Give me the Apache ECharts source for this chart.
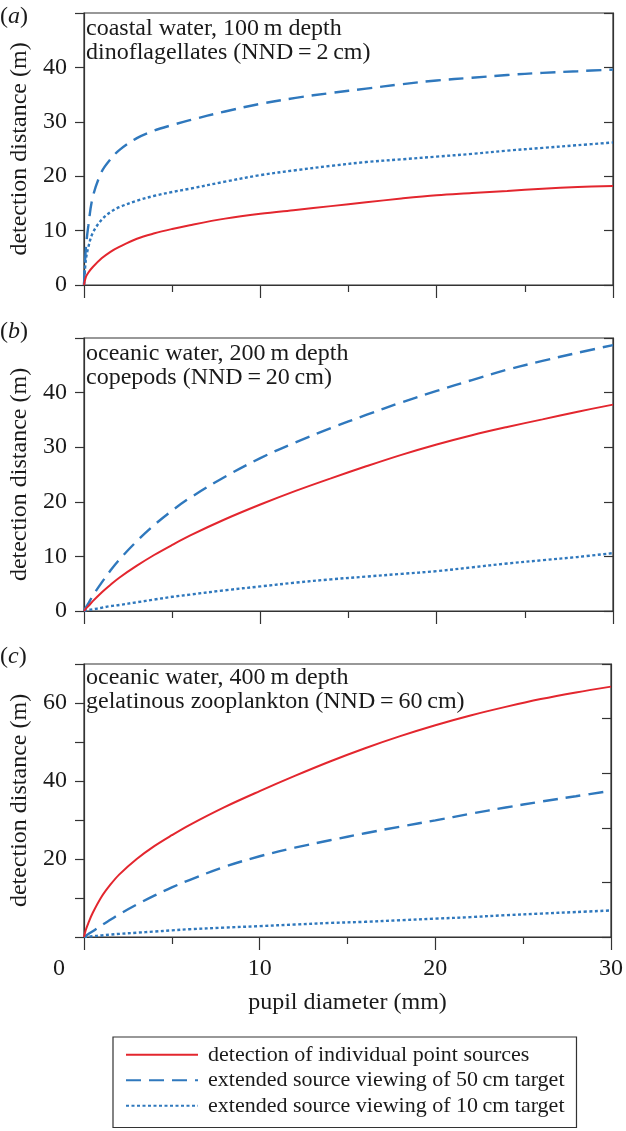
<!DOCTYPE html>
<html>
<head>
<meta charset="utf-8">
<title>detection distance vs pupil diameter</title>
<script src="https://cdn.jsdelivr.net/npm/echarts@6/dist/echarts.min.js"></script>
<style>
  html, body { margin: 0; padding: 0; background: #fff; }
  #chart { width: 626px; height: 1131px; }
</style>
</head>
<body>
<div id="chart"></div>
<script>
// pupil diameter (mm), shared by every curve
const pupil = [0, 0.1, 0.25, 0.5, 1, 1.5, 2, 3, 4, 5, 6, 8, 10, 12, 14, 16, 18, 20, 22, 24, 26, 28, 30];

// (a) coastal water, 100 m depth
const aPoint = [0, 1.4, 2.3, 3.3, 4.9, 6.1, 7.0, 8.5, 9.5, 10.3, 11.0, 12.2, 13.1, 13.8, 14.5, 15.2, 15.9, 16.5, 16.9, 17.3, 17.7, 18.0, 18.2];
const aExt50 = [0, 6.5, 11.0, 16.2, 20.8, 23.1, 24.8, 27.0, 28.4, 29.4, 30.3, 31.9, 33.3, 34.4, 35.3, 36.1, 36.9, 37.6, 38.1, 38.6, 39.0, 39.3, 39.6];
const aExt10 = [0, 4.5, 7.0, 9.6, 12.0, 13.4, 14.3, 15.5, 16.4, 17.1, 17.7, 19.0, 20.2, 21.1, 21.9, 22.6, 23.1, 23.6, 24.1, 24.7, 25.2, 25.7, 26.2];

// (b) oceanic water, 200 m depth
const bPoint = [0, 0.4, 0.9, 1.8, 3.4, 4.8, 6.1, 8.3, 10.3, 12.1, 13.8, 16.8, 19.5, 22.0, 24.3, 26.5, 28.6, 30.5, 32.2, 33.7, 35.1, 36.5, 37.8];
const bExt50 = [0, 0.6, 1.4, 2.8, 5.2, 7.4, 9.4, 12.8, 15.8, 18.4, 20.7, 24.6, 28.0, 30.9, 33.5, 35.9, 38.2, 40.3, 42.3, 44.2, 45.8, 47.3, 48.7];
const bExt10 = [0, 0.1, 0.2, 0.3, 0.6, 0.9, 1.1, 1.6, 2.1, 2.6, 3.0, 3.8, 4.5, 5.2, 5.8, 6.3, 6.8, 7.3, 8.0, 8.7, 9.3, 9.9, 10.6];

// (c) oceanic water, 400 m depth
const cPoint = [0, 1.8, 3.6, 6.2, 10.3, 13.4, 16.0, 20.0, 23.3, 26.1, 28.7, 33.3, 37.4, 41.3, 45.0, 48.4, 51.5, 54.3, 56.8, 59.0, 61.0, 62.7, 64.2];
const cExt50 = [0, 0.3, 0.8, 1.5, 3.0, 4.4, 5.8, 8.3, 10.6, 12.7, 14.6, 18.0, 20.7, 22.9, 24.8, 26.6, 28.3, 29.9, 31.6, 33.2, 34.7, 36.1, 37.5];
const cExt10 = [0, 0.05, 0.1, 0.2, 0.4, 0.6, 0.8, 1.1, 1.4, 1.7, 2.0, 2.4, 2.8, 3.2, 3.6, 3.9, 4.3, 4.7, 5.1, 5.6, 6.0, 6.4, 6.8];

// tick labels
const xTickLabels = [0, 10, 20, 30];
const yTickLabelsAB = [0, 10, 20, 30, 40];
const yTickLabelsC = [20, 40, 60];
const yMax = [50, 50, 70];

const panelTags = ['a', 'b', 'c'];
const panelNotes = [
  'coastal water, 100\u2009m depth\ndinoflagellates (NND\u2009=\u20092\u2009cm)',
  'oceanic water, 200\u2009m depth\ncopepods (NND\u2009=\u200920\u2009cm)',
  'oceanic water, 400\u2009m depth\ngelatinous zooplankton (NND\u2009=\u200960\u2009cm)'
];
const seriesNames = [
  'detection of individual point sources',
  'extended source viewing of 50\u2009cm target',
  'extended source viewing of 10\u2009cm target'
];
const panelData = [
  [aPoint, aExt50, aExt10],
  [bPoint, bExt50, bExt10],
  [cPoint, cExt50, cExt10]
];

const FONT = '"Liberation Serif", "Times New Roman", serif';
const INK = '#1a1a1a';
const AXIS = '#333';
const RED = '#e3262e';
const BLUE = '#2f78bd';

const gridTops = [13, 338, 664];
const gridHeights = [272, 273, 273];

const grid = gridTops.map((t, i) => ({
  left: 81, top: t, width: 532, height: gridHeights[i],
  show: true, borderColor: AXIS, borderWidth: 1.2
}));

const xAxis = grid.map((g, i) => ({
  type: 'value', gridIndex: i, min: 0, max: 30, interval: 10,
  axisLine: { show: true, onZero: false, lineStyle: { color: AXIS, width: 1.2 } },
  axisTick: { show: true, inside: false, length: 13, lineStyle: { color: AXIS, width: 1.2 } },
  minorTick: { show: true, splitNumber: 2, length: 7, lineStyle: { color: AXIS, width: 1.2 } },
  splitLine: { show: false },
  axisLabel: {
    show: i === 2, margin: 20, color: INK, fontFamily: FONT, fontSize: 24,
    formatter: v => v === 0 ? '{z|0}' : (xTickLabels.includes(v) ? String(v) : ''),
    rich: { z: { fontFamily: FONT, fontSize: 24, color: INK, padding: [0, 50, 0, 0] } }
  },
  name: i === 2 ? 'pupil diameter (mm)' : '',
  nameLocation: 'middle', nameGap: 54,
  nameTextStyle: { color: INK, fontFamily: FONT, fontSize: 24 }
}));

const yAxis = [];
grid.forEach((g, i) => {
  const labels = i === 2 ? yTickLabelsC : yTickLabelsAB;
  yAxis.push({
    type: 'value', gridIndex: i, min: 0, max: yMax[i], interval: 10, position: 'left',
    axisLine: { show: true, onZero: false, lineStyle: { color: AXIS, width: 1.2 } },
    axisTick: { show: true, inside: false, length: 9, lineStyle: { color: AXIS, width: 1.2 } },
    splitLine: { show: false },
    axisLabel: {
      margin: 17, color: INK, fontFamily: FONT, fontSize: 24,
      formatter: v => labels.includes(v) ? String(v) : ''
    },
    name: 'detection distance (m)', nameLocation: 'middle', nameGap: 52, nameRotate: 90,
    nameTextStyle: { color: INK, fontFamily: FONT, fontSize: 24 }
  });
  // right frame ticks (same 0-50 spacing in every panel)
  yAxis.push({
    type: 'value', gridIndex: i, min: 0, max: 50, interval: 10, position: 'right',
    axisLine: { show: true, onZero: false, lineStyle: { color: AXIS, width: 1.2 } },
    axisTick: { show: true, inside: true, length: 9, lineStyle: { color: AXIS, width: 1.2 } },
    splitLine: { show: false },
    axisLabel: { show: false }
  });
});

const lineStyles = [
  { color: RED, width: 2, type: 'solid' },
  { color: BLUE, width: 2.4, type: [15, 8] },
  { color: BLUE, width: 2.4, type: [3, 2.5] }
];

const series = [];
panelData.forEach((curves, i) => {
  curves.forEach((vals, k) => {
    series.push({
      name: seriesNames[k], type: 'line', xAxisIndex: i, yAxisIndex: i * 2,
      data: pupil.map((p, j) => [p, vals[j]]),
      showSymbol: false, symbol: 'none', smooth: 0.35,
      lineStyle: lineStyles[k], itemStyle: { color: lineStyles[k].color },
      z: 3 - k
    });
  });
});

const tagTops = [5, 320, 645];
const noteTops = [17, 342, 666];
const title = [];
panelTags.forEach((tag, i) => {
  title.push({
    text: '({i|' + tag + '})', left: 0, top: tagTops[i], padding: 0,
    textStyle: {
      fontFamily: FONT, fontSize: 24, fontWeight: 'normal', color: INK,
      rich: { i: { fontFamily: FONT, fontSize: 24, fontStyle: 'italic', color: INK } }
    }
  });
  title.push({
    text: panelNotes[i], left: 86, top: noteTops[i], padding: 0,
    textStyle: { fontFamily: FONT, fontSize: 24, fontWeight: 'normal', color: INK, lineHeight: 23.5 }
  });
});

const chart = echarts.init(document.getElementById('chart'), null, { renderer: 'canvas' });
chart.setOption({
  animation: false,
  backgroundColor: '#fff',
  title,
  grid,
  xAxis,
  yAxis,
  series,
  legend: {
    data: seriesNames, orient: 'vertical', left: 113, top: 1037,
    padding: [5, 12, 9, 12], itemGap: 0, itemWidth: 72, itemHeight: 14,
    borderColor: AXIS, borderWidth: 1.2,
    selectedMode: false,
    itemStyle: { opacity: 0, borderWidth: 0 },
    textStyle: { fontFamily: FONT, fontSize: 22, color: INK, lineHeight: 25.5, padding: [0, 0, 0, 5] }
  }
});
</script>
</body>
</html>
